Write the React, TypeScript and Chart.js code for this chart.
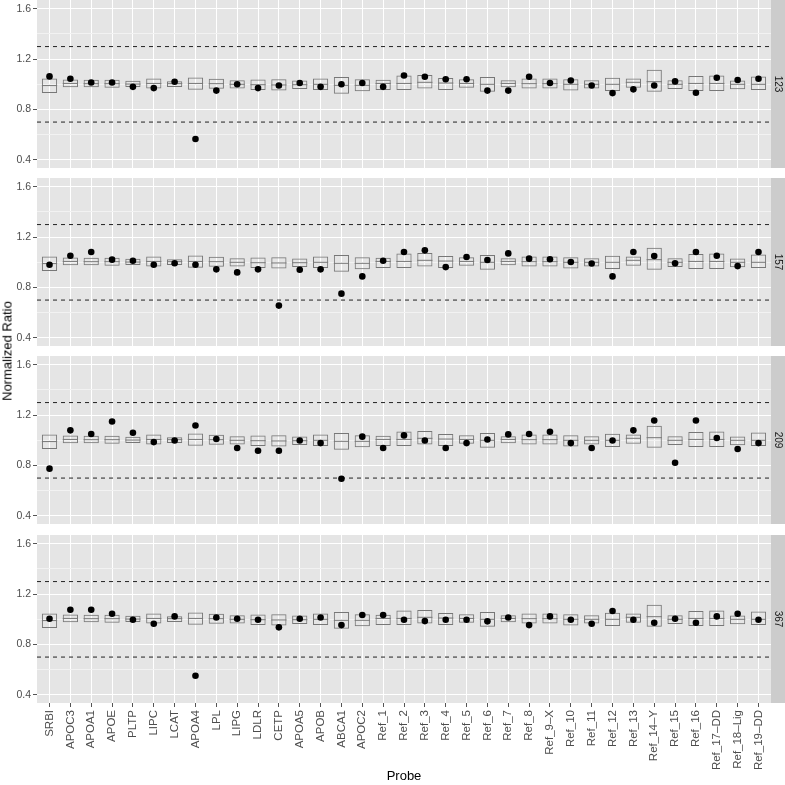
import React, { useEffect, useRef } from 'react';
import { Chart, registerables } from 'chart.js';

Chart.register(...registerables);

const FONT = '"Liberation Sans", Arial, Helvetica, sans-serif';

const categories = [
  'SRBI', 'APOC3', 'APOA1', 'APOE', 'PLTP', 'LIPC', 'LCAT', 'APOA4', 'LPL', 'LIPG',
  'LDLR', 'CETP', 'APOA5', 'APOB', 'ABCA1', 'APOC2', 'Ref_1', 'Ref_2', 'Ref_3', 'Ref_4',
  'Ref_5', 'Ref_6', 'Ref_7', 'Ref_8', 'Ref_9–X', 'Ref_10', 'Ref_11', 'Ref_12', 'Ref_13',
  'Ref_14–Y', 'Ref_15', 'Ref_16', 'Ref_17–DD', 'Ref_18–Lig', 'Ref_19–DD',
];

const panelLabels = ['123', '157', '209', '367'];

const boxLower = [0.93, 0.976, 0.976, 0.973, 0.978, 0.967, 0.978, 0.957, 0.965, 0.967, 0.954, 0.95, 0.962, 0.954, 0.926, 0.944, 0.954, 0.954, 0.967, 0.955, 0.973, 0.941, 0.976, 0.967, 0.967, 0.95, 0.967, 0.946, 0.973, 0.941, 0.962, 0.946, 0.946, 0.96, 0.954];
const boxMedian = [0.99, 1.007, 1.005, 1.005, 1.002, 1.007, 1.005, 1.007, 1.005, 1.0, 0.997, 0.995, 0.997, 1.0, 0.992, 0.992, 1.007, 1.007, 1.016, 1.01, 1.007, 1.0, 1.007, 1.005, 1.005, 1.0, 1.0, 1.0, 1.016, 1.021, 1.0, 1.007, 1.007, 1.0, 1.0];
const boxUpper = [1.047, 1.039, 1.037, 1.036, 1.028, 1.047, 1.025, 1.055, 1.044, 1.033, 1.039, 1.041, 1.031, 1.047, 1.058, 1.041, 1.036, 1.071, 1.074, 1.05, 1.041, 1.058, 1.033, 1.047, 1.047, 1.041, 1.033, 1.052, 1.047, 1.116, 1.033, 1.066, 1.071, 1.031, 1.063];

const points123 = [1.063, 1.044, 1.015, 1.015, 0.98, 0.97, 1.02, 0.565, 0.95, 1.0, 0.97, 0.99, 1.01, 0.98, 1.0, 1.01, 0.98, 1.07, 1.06, 1.04, 1.04, 0.95, 0.95, 1.06, 1.01, 1.03, 0.99, 0.93, 0.96, 0.99, 1.023, 0.933, 1.052, 1.034, 1.044];
const points157 = [0.981, 1.052, 1.082, 1.021, 1.013, 0.981, 0.992, 0.981, 0.944, 0.92, 0.944, 0.656, 0.941, 0.944, 0.751, 0.888, 1.013, 1.082, 1.095, 0.962, 1.042, 1.018, 1.071, 1.029, 1.024, 1.002, 0.99, 0.888, 1.082, 1.05, 0.992, 1.082, 1.052, 0.97, 1.082];
const points209 = [0.775, 1.079, 1.05, 1.15, 1.06, 0.986, 0.999, 1.118, 1.01, 0.939, 0.917, 0.917, 0.999, 0.978, 0.695, 1.029, 0.939, 1.039, 0.999, 0.939, 0.978, 1.007, 1.047, 1.05, 1.068, 0.978, 0.939, 0.999, 1.079, 1.158, 0.822, 1.158, 1.018, 0.931, 0.978];
const points367 = [1.005, 1.076, 1.076, 1.044, 0.997, 0.965, 1.023, 0.552, 1.015, 1.005, 0.997, 0.936, 1.005, 1.015, 0.954, 1.034, 1.034, 0.997, 0.986, 0.997, 0.997, 0.984, 1.015, 0.954, 1.023, 0.997, 0.965, 1.066, 0.997, 0.973, 1.005, 0.973, 1.023, 1.044, 0.997];

const pointSeries = [points123, points157, points209, points367];

const refLines = [0.7, 1.3];
const yMajorTicks = [0.4, 0.8, 1.2, 1.6];
const yMinorTicks = [0.6, 1.0, 1.4];
const yLimits = [0.335, 1.67];

const isMajor = (v: number) => yMajorTicks.some((m) => Math.abs(m - v) < 1e-6);

const BOX_FRACTION = 0.73;
const PANEL_W = 785;
const AXIS_W = 37;
const STRIP_W = 14;
const PANEL_H = 168;
const X_AXIS_H = 82;
const PANEL_TOPS = [0, 178, 356, 535];

const panelDecor = {
  id: 'panelDecor',
  beforeDraw(chart: any, _args: any, opts: any) {
    const { ctx, chartArea } = chart;
    const { left, top, right, bottom } = chartArea;
    ctx.save();
    ctx.fillStyle = '#e5e5e5';
    ctx.fillRect(left, top, right - left, bottom - top);
    ctx.fillStyle = '#cccccc';
    ctx.fillRect(right, top, chart.width - right, bottom - top);
    ctx.translate((right + chart.width) / 2, (top + bottom) / 2);
    ctx.rotate(Math.PI / 2);
    ctx.fillStyle = '#1a1a1a';
    ctx.font = `10px ${FONT}`;
    ctx.textAlign = 'center';
    ctx.textBaseline = 'middle';
    ctx.fillText(opts.label, 0, 0);
    ctx.restore();
  },
};

function makeConfig(p: number, isBottom: boolean): any {
  const pts = pointSeries[p];
  const n = categories.length;
  const spacing = (PANEL_W - AXIS_W - STRIP_W) / (n - 1 + 1.2);
  const halfBox = (spacing * BOX_FRACTION) / 2;
  return {
    type: 'scatter',
    data: {
      datasets: [
        {
          type: 'scatter',
          data: pts.map((v, i) => ({ x: i, y: v })),
          pointRadius: 3.3,
          pointBackgroundColor: '#000000',
          backgroundColor: '#000000',
          pointBorderWidth: 0,
          borderWidth: 0,
          order: 0,
        },
        {
          type: 'scatter',
          data: boxMedian.map((v, i) => ({ x: i, y: v })),
          pointStyle: 'line',
          pointRadius: halfBox,
          pointBorderColor: '#777777',
          borderColor: '#777777',
          pointBorderWidth: 1,
          borderWidth: 1,
          order: 1,
        },
        {
          type: 'bar',
          data: boxLower.map((v, i) => ({ x: i, y: [v, boxUpper[i]] })),
          backgroundColor: 'rgba(0,0,0,0)',
          borderColor: '#777777',
          borderWidth: 1,
          borderSkipped: false,
          barPercentage: BOX_FRACTION,
          categoryPercentage: 1,
          grouped: false,
          order: 2,
        },
        ...refLines.map((v) => ({
          type: 'line',
          data: [
            { x: -0.6, y: v },
            { x: n - 0.4, y: v },
          ],
          borderColor: '#222222',
          borderWidth: 1,
          borderDash: [4, 4],
          pointRadius: 0,
          fill: false,
          order: 3,
        })),
      ],
    },
    options: {
      responsive: false,
      maintainAspectRatio: false,
      animation: false,
      events: [],
      layout: { autoPadding: false, padding: { left: 0, right: STRIP_W, top: 0, bottom: 0 } },
      plugins: {
        legend: { display: false },
        tooltip: { enabled: false },
        panelDecor: { label: panelLabels[p] },
      },
      scales: {
        x: {
          type: 'linear',
          min: -0.6,
          max: n - 0.4,
          offset: false,
          afterBuildTicks: (s: any) => {
            s.ticks = categories.map((_, i) => ({ value: i }));
          },
          afterFit: (s: any) => {
            s.paddingLeft = 0;
            s.paddingRight = 0;
            s.height = isBottom ? X_AXIS_H : 0;
          },
          ticks: {
            display: isBottom,
            autoSkip: false,
            minRotation: 90,
            maxRotation: 90,
            padding: 3,
            color: '#4d4d4d',
            font: { size: 11.5, family: FONT },
            callback: (v: number) => categories[Math.round(v)] ?? '',
          },
          grid: {
            color: '#ffffff',
            lineWidth: 1,
            drawTicks: isBottom,
            tickLength: 4,
            tickColor: '#555555',
            offset: false,
          },
          border: { display: false },
          title: {
            display: isBottom,
            text: 'Probe',
            color: '#000000',
            font: { size: 13, family: FONT },
            padding: { top: 4, bottom: 1 },
          },
        },
        y: {
          type: 'linear',
          min: yLimits[0],
          max: yLimits[1],
          afterBuildTicks: (s: any) => {
            s.ticks = [...yMajorTicks, ...yMinorTicks]
              .sort((a, b) => a - b)
              .map((v) => ({ value: v }));
          },
          afterFit: (s: any) => {
            s.width = AXIS_W;
            s.paddingTop = 0;
            s.paddingBottom = 0;
          },
          ticks: {
            autoSkip: false,
            color: '#4d4d4d',
            padding: 2,
            font: { size: 10.5, family: FONT },
            callback: (v: number) => (isMajor(v) ? v.toFixed(1) : ''),
          },
          grid: {
            color: (ctx: any) => (ctx.tick && isMajor(ctx.tick.value) ? '#ffffff' : '#f2f2f2'),
            tickColor: (ctx: any) =>
              ctx.tick && isMajor(ctx.tick.value) ? '#555555' : 'rgba(0,0,0,0)',
            tickLength: 4,
            lineWidth: 1,
          },
          border: { display: false },
        },
      },
    },
    plugins: [panelDecor],
  };
}

export default function App() {
  const canvasRefs = useRef<(HTMLCanvasElement | null)[]>([]);

  useEffect(() => {
    Chart.defaults.font.family = FONT;
    const charts = panelLabels.map(
      (_, p) => new Chart(canvasRefs.current[p] as HTMLCanvasElement, makeConfig(p, p === panelLabels.length - 1))
    );
    return () => charts.forEach((c) => c.destroy());
  }, []);

  return (
    <div
      style={{
        position: 'absolute',
        left: 0,
        top: 0,
        width: 785,
        height: 785,
        background: '#ffffff',
        fontFamily: FONT,
        overflow: 'hidden',
      }}
    >
      {panelLabels.map((_, p) => (
        <canvas
          key={p}
          ref={(el) => {
            canvasRefs.current[p] = el;
          }}
          width={PANEL_W}
          height={p === panelLabels.length - 1 ? PANEL_H + X_AXIS_H : PANEL_H}
          style={{ position: 'absolute', left: 0, top: PANEL_TOPS[p], display: 'block' }}
        />
      ))}
      <div
        style={{
          position: 'absolute',
          left: 7,
          top: 351,
          transform: 'translate(-50%, -50%) rotate(-90deg)',
          fontSize: 13,
          color: '#000000',
          whiteSpace: 'nowrap',
          lineHeight: 1,
        }}
      >
        Normalized Ratio
      </div>
    </div>
  );
}
